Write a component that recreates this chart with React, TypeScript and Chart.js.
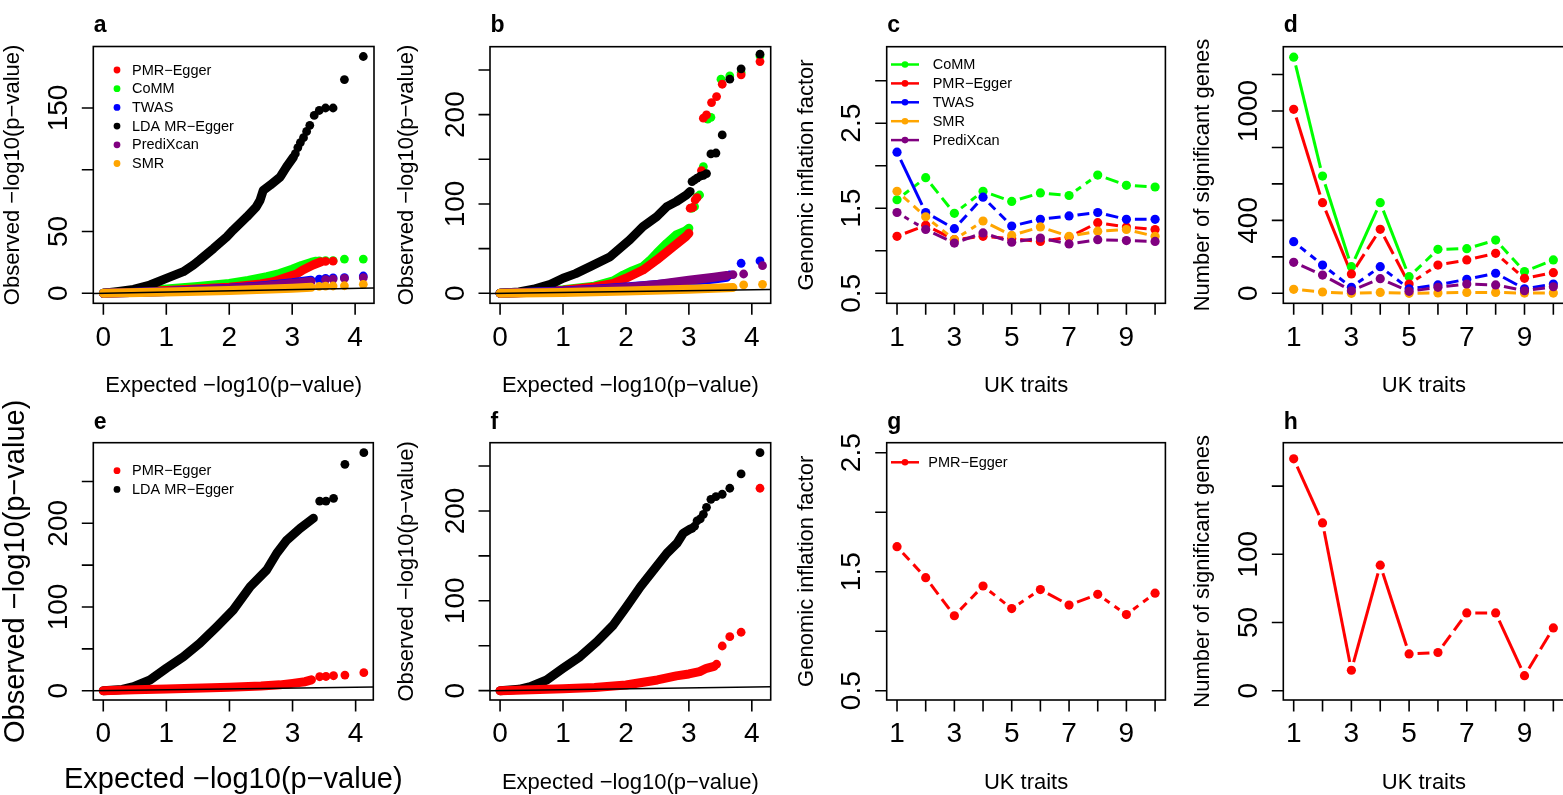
import React, { useEffect, useRef } from "react";
import { Chart, registerables } from "chart.js";
Chart.register(...registerables);

const FONT = "'Liberation Sans', Arial, Helvetica, sans-serif";
const RED = "#FF0000";
const GREEN = "#00FF00";
const BLUE = "#0000FF";
const BLACK = "#000000";
const PURPLE = "#800080";
const ORANGE = "#FFA500";

// ---------- Panel a (QQ, 6 methods) ----------
const aLdaX = [0, 0.21, 0.48, 0.74, 1.0, 1.27, 1.43, 1.53, 1.75, 1.96, 2.06, 2.28, 2.43, 2.49, 2.54, 2.65, 2.81, 2.91, 3.02];
const aLdaY = [0, 1.3, 3.2, 6.7, 12.1, 17.5, 22.9, 26.9, 36.3, 45.7, 51.1, 61.9, 70, 75.4, 83.4, 87.5, 94.2, 102.3, 110.3];
const aLdaTailX = [3.05, 3.09, 3.13, 3.18, 3.23, 3.28, 3.35, 3.43, 3.53, 3.65, 3.83, 4.13];
const aLdaTailY = [113, 118, 122, 126, 131, 136, 144, 148, 150, 150, 173, 191.7];
const aCommX = [0, 0.5, 1.0, 1.5, 2.0, 2.3, 2.6, 2.8, 3.0, 3.15, 3.3, 3.38];
const aCommY = [0, 1.8, 3.5, 5.5, 8, 10.5, 13.5, 16, 19.5, 22.5, 25, 26];
const aCommTailX = [3.43, 3.53, 3.65, 3.83, 4.13];
const aCommTailY = [26.3, 26.5, 26.5, 27.7, 27.7];
const aPmrX = [0, 1.0, 2.0, 2.5, 2.7, 2.91, 3.07, 3.17, 3.33, 3.46];
const aPmrY = [0, 2.2, 5, 7.5, 9.4, 12.9, 15.6, 18.9, 22.9, 25.5];
const aPmrTailX = [3.53, 3.65];
const aPmrTailY = [25.8, 26];
const aTwasX = [0, 1.0, 2.0, 2.5, 3.0, 3.3];
const aTwasY = [0, 1.5, 4, 6, 8.5, 10.5];
const aTwasTailX = [3.43, 3.53, 3.65, 3.83, 4.13];
const aTwasTailY = [11.5, 12, 12.5, 12.6, 14];
const aPrediX = [0, 1, 2, 2.5, 3, 3.3];
const aPrediY = [0, 1.5, 3.8, 5.5, 8, 9.5];
const aPrediTailX = [3.53, 3.65, 3.83, 4.13];
const aPrediTailY = [11, 11.5, 12, 12.6];
const aSmrX = [0, 1, 2, 3, 3.3];
const aSmrY = [0, 1, 2.2, 4, 4.8];
const aSmrTailX = [3.43, 3.53, 3.65, 3.83, 4.13];
const aSmrTailY = [5.6, 5.8, 5.9, 6.1, 7.3];

// ---------- Panel b ----------
const bLdaX = [0, 0.3, 0.53, 0.8, 1.0, 1.2, 1.43, 1.75, 2.06, 2.27, 2.49, 2.65, 2.8, 2.96, 3.02];
const bLdaY = [0, 1.5, 4.5, 10, 16.8, 22, 29.8, 41, 59.7, 74.6, 85.8, 97, 102.6, 110, 114];
const bLdaTailX = [3.05, 3.09, 3.13, 3.18, 3.23, 3.28, 3.35, 3.43, 3.53, 3.65, 3.83, 4.13];
const bLdaTailY = [125, 127, 129, 131, 132, 134, 156, 157, 177.3, 239.6, 251.2, 267.6];
const bCommX = [0, 0.5, 1.0, 1.5, 1.8, 1.96, 2.1, 2.27, 2.4, 2.49, 2.65, 2.8, 2.95, 3.0];
const bCommY = [0, 1.5, 4, 8, 14, 20.5, 25, 29.8, 38, 44.8, 56, 65.3, 70, 72.8];
const bCommTailX = [3.05, 3.09, 3.13, 3.17, 3.23, 3.3, 3.35, 3.51, 3.65, 3.83, 4.13];
const bCommTailY = [95.2, 97, 108, 110, 141.8, 195, 197, 239.6, 243.3, 247, 265.7];
const bPmrX = [0, 0.5, 1.0, 1.5, 1.8, 2.0, 2.27, 2.49, 2.75, 2.96, 3.0];
const bPmrY = [0, 1.2, 3.5, 7, 11, 16.8, 26, 37.3, 52.2, 64, 67.2];
const bPmrTailX = [3.02, 3.06, 3.1, 3.13, 3.2, 3.23, 3.28, 3.36, 3.44, 3.53, 3.83, 4.13];
const bPmrTailY = [95.2, 96, 104.5, 107, 137.3, 196, 199.7, 213.5, 220.2, 234, 244.5, 259.4];
const bTwasX = [0, 1, 1.5, 2, 2.5, 3, 3.4, 3.6];
const bTwasY = [0, 2.5, 4.5, 7, 10, 13, 16, 18];
const bTwasTailX = [3.65, 3.83, 4.13];
const bTwasTailY = [20.5, 33.6, 36.2];
const bPrediX = [0, 1, 1.5, 2, 2.5, 3, 3.4, 3.6];
const bPrediY = [0, 2, 4, 6.5, 10, 14.5, 18, 20];
const bPrediTailX = [3.7, 3.87, 4.17];
const bPrediTailY = [21, 21.6, 30.9];
const bSmrX = [0, 1, 2, 3, 3.5, 3.7];
const bSmrY = [0, 1, 2.5, 4.5, 5.8, 6.5];
const bSmrTailX = [3.87, 4.17];
const bSmrTailY = [9.3, 10];

// ---------- Panel e ----------
const eLdaX = [0, 0.3, 0.48, 0.74, 1.0, 1.27, 1.53, 1.8, 2.06, 2.33, 2.59, 2.75, 2.91, 3.12, 3.33];
const eLdaY = [0, 1.5, 4.8, 12.8, 26.8, 40.6, 56.6, 76.5, 96.4, 124.3, 144.2, 164.2, 180, 194, 206];
const eLdaTailX = [3.43, 3.53, 3.65, 3.83, 4.13];
const eLdaTailY = [226.6, 226.6, 229.9, 270.5, 284.4];
const ePmrX = [0, 0.5, 1, 2, 2.5, 2.8, 3.0, 3.2, 3.3];
const ePmrY = [0, 1, 2, 4, 5.5, 7, 8.8, 10.8, 13];
const ePmrTailX = [3.43, 3.53, 3.65, 3.83, 4.13];
const ePmrTailY = [16.7, 17, 17.9, 18.7, 21.5];

// ---------- Panel f ----------
const fLdaX = [0, 0.3, 0.48, 0.74, 1.0, 1.27, 1.54, 1.8, 2.01, 2.23, 2.44, 2.65, 2.81, 2.91, 3.02];
const fLdaY = [0, 1.5, 4.5, 11.9, 24.9, 37.8, 54.5, 73.1, 93.5, 115.7, 134.3, 152.9, 164, 175.2, 180];
const fLdaTailX = [3.05, 3.09, 3.13, 3.18, 3.23, 3.28, 3.35, 3.43, 3.53, 3.65, 3.83, 4.13];
const fLdaTailY = [180.7, 183, 189, 191.1, 196.3, 204.1, 213, 216, 218.6, 225.3, 241.2, 264.9];
const fPmrX = [0, 0.5, 1, 1.5, 2, 2.5, 2.8, 3.0, 3.17, 3.28, 3.4];
const fPmrY = [0, 1, 2, 3.5, 6.3, 11.9, 16.4, 18.6, 21.2, 24.9, 27];
const fPmrTailX = [3.44, 3.53, 3.65, 3.83, 4.13];
const fPmrTailY = [29.4, 49.7, 60.1, 65, 225.3];

// ---------- Panels c, d, g, h (UK traits) ----------
const traits = [1, 2, 3, 4, 5, 6, 7, 8, 9, 10];
const cComm = [1.6, 1.86, 1.44, 1.7, 1.58, 1.68, 1.65, 1.89, 1.77, 1.75];
const cPmr = [1.17, 1.3, 1.13, 1.17, 1.14, 1.11, 1.16, 1.33, 1.28, 1.25];
const cTwas = [2.16, 1.45, 1.26, 1.63, 1.29, 1.37, 1.41, 1.45, 1.37, 1.37];
const cSmr = [1.7, 1.4, 1.13, 1.35, 1.18, 1.28, 1.17, 1.23, 1.25, 1.17];
const cPredi = [1.45, 1.25, 1.09, 1.21, 1.1, 1.15, 1.08, 1.13, 1.12, 1.11];
const dComm = [1295, 643, 146, 497, 91, 241, 245, 292, 119, 183];
const dPmr = [1009, 497, 106, 351, 51, 155, 183, 219, 82, 113];
const dTwas = [283, 155, 33, 146, 25, 46, 77, 110, 25, 51];
const dSmr = [22, 7, 0, 5, 0, 2, 5, 5, 1, 1];
const dPredi = [170, 100, 14, 80, 11, 33, 51, 46, 14, 36];
const gPmr = [1.71, 1.45, 1.13, 1.38, 1.19, 1.35, 1.22, 1.31, 1.14, 1.32];
const hPmr = [170, 123, 15, 92, 27, 28, 57, 57, 11, 46];

// ---------- tick definitions ----------
const qqXTicks = [0, 1, 2, 3, 4];
const traitTicks = traits;
const traitLabels = [1, 3, 5, 7, 9];
const aYTicks = [0, 50, 100, 150];
const aYLabels = [0, 50, 150];
const bYTicks = [0, 50, 100, 150, 200, 250];
const bYLabels = [0, 100, 200];
const cYTicks = [0.5, 1, 1.5, 2, 2.5, 3];
const cYLabels = [0.5, 1.5, 2.5];
const dYTicks = [0, 200, 400, 600, 800, 1000, 1200];
const dYLabels = [0, 400, 1000];
const gYTicks = [0.5, 1, 1.5, 2, 2.5];
const hYTicks = [0, 50, 100, 150];
const hYLabels = [0, 50, 100];

type QQ = { color: string; x: number[]; y: number[]; tx: number[]; ty: number[] };
type BS = { color: string; y: number[] };
type Leg = { kind: "dot" | "line"; items: { label: string; color: string }[]; markX: number; textX: number; y0: number; dy: number; size: number };

interface Spec {
  letter: string;
  cx: number; cy: number; cw: number; ch: number;
  box: { l: number; t: number; r: number; b: number };
  xr: [number, number]; yr: [number, number];
  xTicks: number[]; xLabels: number[];
  yTicks: number[]; yLabels: number[]; dec?: boolean;
  xTitle: string; yTitle: string; titleSize: number;
  xTitleBase: number; yTitleBase: number; tickLabelOff: number; letterBase: number;
  qq?: QQ[]; bs?: BS[]; abline?: boolean;
  legend?: Leg;
}

const XQ = "Expected \u2212log10(p\u2212value)";
const YQ = "Observed \u2212log10(p\u2212value)";
const PMR = "PMR\u2212Egger";
const LDA = "LDA MR\u2212Egger";

const specs: Spec[] = [
  {
    letter: "a", cx: 0, cy: 0, cw: 390, ch: 400,
    box: { l: 93.3, t: 46.5, r: 374, b: 303.3 }, xr: [-0.16, 4.3], yr: [-8.1, 199.8],
    xTicks: qqXTicks, xLabels: qqXTicks, yTicks: aYTicks, yLabels: aYLabels,
    xTitle: XQ, yTitle: YQ, titleSize: 22, xTitleBase: 392.3, yTitleBase: 19.3, tickLabelOff: 43, letterBase: 32,
    abline: true,
    qq: [
      { color: GREEN, x: aCommX, y: aCommY, tx: aCommTailX, ty: aCommTailY },
      { color: RED, x: aPmrX, y: aPmrY, tx: aPmrTailX, ty: aPmrTailY },
      { color: BLACK, x: aLdaX, y: aLdaY, tx: aLdaTailX, ty: aLdaTailY },
      { color: BLUE, x: aTwasX, y: aTwasY, tx: aTwasTailX, ty: aTwasTailY },
      { color: PURPLE, x: aPrediX, y: aPrediY, tx: aPrediTailX, ty: aPrediTailY },
      { color: ORANGE, x: aSmrX, y: aSmrY, tx: aSmrTailX, ty: aSmrTailY },
    ],
    legend: {
      kind: "dot", markX: 117, textX: 132, y0: 70, dy: 18.7, size: 14.5,
      items: [
        { label: PMR, color: RED }, { label: "CoMM", color: GREEN }, { label: "TWAS", color: BLUE },
        { label: LDA, color: BLACK }, { label: "PrediXcan", color: PURPLE }, { label: "SMR", color: ORANGE },
      ],
    },
  },
  {
    letter: "b", cx: 390, cy: 0, cw: 390, ch: 400,
    box: { l: 490, t: 46.7, r: 770.7, b: 303.3 }, xr: [-0.16, 4.3], yr: [-11.2, 276],
    xTicks: qqXTicks, xLabels: qqXTicks, yTicks: bYTicks, yLabels: bYLabels,
    xTitle: XQ, yTitle: YQ, titleSize: 22, xTitleBase: 392.3, yTitleBase: 412.5, tickLabelOff: 43, letterBase: 32,
    abline: true,
    qq: [
      { color: GREEN, x: bCommX, y: bCommY, tx: bCommTailX, ty: bCommTailY },
      { color: RED, x: bPmrX, y: bPmrY, tx: bPmrTailX, ty: bPmrTailY },
      { color: BLACK, x: bLdaX, y: bLdaY, tx: bLdaTailX, ty: bLdaTailY },
      { color: BLUE, x: bTwasX, y: bTwasY, tx: bTwasTailX, ty: bTwasTailY },
      { color: PURPLE, x: bPrediX, y: bPrediY, tx: bPrediTailX, ty: bPrediTailY },
      { color: ORANGE, x: bSmrX, y: bSmrY, tx: bSmrTailX, ty: bSmrTailY },
    ],
  },
  {
    letter: "c", cx: 780, cy: 0, cw: 390, ch: 400,
    box: { l: 886.7, t: 46.7, r: 1167.3, b: 303.3 }, xr: [0.64, 10.36], yr: [0.382, 3.4],
    xTicks: traitTicks, xLabels: traitLabels, yTicks: cYTicks, yLabels: cYLabels, dec: true,
    xTitle: "UK traits", yTitle: "Genomic inflation factor", titleSize: 22, xTitleBase: 392.3, yTitleBase: 813, tickLabelOff: 43, letterBase: 32,
    bs: [
      { color: GREEN, y: cComm }, { color: RED, y: cPmr }, { color: BLUE, y: cTwas },
      { color: ORANGE, y: cSmr }, { color: PURPLE, y: cPredi },
    ],
    legend: {
      kind: "line", markX: 905, textX: 932.7, y0: 64.5, dy: 18.9, size: 14.5,
      items: [
        { label: "CoMM", color: GREEN }, { label: PMR, color: RED }, { label: "TWAS", color: BLUE },
        { label: "SMR", color: ORANGE }, { label: "PrediXcan", color: PURPLE },
      ],
    },
  },
  {
    letter: "d", cx: 1170, cy: 0, cw: 410, ch: 400,
    box: { l: 1283.3, t: 46.7, r: 1564.6, b: 303.3 }, xr: [0.64, 10.39], yr: [-54.9, 1352.7],
    xTicks: traitTicks, xLabels: traitLabels, yTicks: dYTicks, yLabels: dYLabels,
    xTitle: "UK traits", yTitle: "Number of significant genes", titleSize: 22, xTitleBase: 392.3, yTitleBase: 1209, tickLabelOff: 43, letterBase: 32,
    bs: [
      { color: GREEN, y: dComm }, { color: RED, y: dPmr }, { color: BLUE, y: dTwas },
      { color: ORANGE, y: dSmr }, { color: PURPLE, y: dPredi },
    ],
  },
  {
    letter: "e", cx: 0, cy: 400, cw: 430, ch: 395,
    box: { l: 93.3, t: 442.7, r: 373.3, b: 700 }, xr: [-0.158, 4.28], yr: [-11.1, 296.3],
    xTicks: qqXTicks, xLabels: qqXTicks, yTicks: bYTicks, yLabels: bYLabels,
    xTitle: XQ, yTitle: YQ, titleSize: 29, xTitleBase: 788, yTitleBase: 24, tickLabelOff: 42, letterBase: 429,
    abline: true,
    qq: [
      { color: BLACK, x: eLdaX, y: eLdaY, tx: eLdaTailX, ty: eLdaTailY },
      { color: RED, x: ePmrX, y: ePmrY, tx: ePmrTailX, ty: ePmrTailY },
    ],
    legend: {
      kind: "dot", markX: 117, textX: 132, y0: 470.7, dy: 18.7, size: 14.5,
      items: [{ label: PMR, color: RED }, { label: LDA, color: BLACK }],
    },
  },
  {
    letter: "f", cx: 390, cy: 400, cw: 390, ch: 395,
    box: { l: 490, t: 442.7, r: 770.7, b: 700 }, xr: [-0.16, 4.3], yr: [-10.4, 276],
    xTicks: qqXTicks, xLabels: qqXTicks, yTicks: bYTicks, yLabels: bYLabels,
    xTitle: XQ, yTitle: YQ, titleSize: 22, xTitleBase: 789, yTitleBase: 412.5, tickLabelOff: 42, letterBase: 429,
    abline: true,
    qq: [
      { color: BLACK, x: fLdaX, y: fLdaY, tx: fLdaTailX, ty: fLdaTailY },
      { color: RED, x: fPmrX, y: fPmrY, tx: fPmrTailX, ty: fPmrTailY },
    ],
  },
  {
    letter: "g", cx: 780, cy: 400, cw: 390, ch: 395,
    box: { l: 886.7, t: 442.7, r: 1167.3, b: 700 }, xr: [0.64, 10.36], yr: [0.422, 2.584],
    xTicks: traitTicks, xLabels: traitLabels, yTicks: gYTicks, yLabels: cYLabels, dec: true,
    xTitle: "UK traits", yTitle: "Genomic inflation factor", titleSize: 22, xTitleBase: 789, yTitleBase: 813, tickLabelOff: 42, letterBase: 429,
    bs: [{ color: RED, y: gPmr }],
    legend: {
      kind: "line", markX: 905, textX: 928.3, y0: 462.3, dy: 18.9, size: 14.5,
      items: [{ label: PMR, color: RED }],
    },
  },
  {
    letter: "h", cx: 1170, cy: 400, cw: 410, ch: 395,
    box: { l: 1283.3, t: 442.7, r: 1564.6, b: 700 }, xr: [0.64, 10.39], yr: [-6.8, 181.8],
    xTicks: traitTicks, xLabels: traitLabels, yTicks: hYTicks, yLabels: hYLabels,
    xTitle: "UK traits", yTitle: "Number of significant genes", titleSize: 22, xTitleBase: 789, yTitleBase: 1209, tickLabelOff: 42, letterBase: 429,
    bs: [{ color: RED, y: hPmr }],
  },
];

function buildDatasets(s: Spec) {
  const list: any[] = [];
  if (s.qq) {
    for (const q of s.qq) {
      list.push({
        data: q.x.map((x, i) => ({ x, y: q.y[i] })),
        showLine: true, borderColor: q.color, borderWidth: 9, pointRadius: 0,
        borderCapStyle: "round", borderJoinStyle: "round", tension: 0,
      });
      list.push({
        data: q.tx.map((x, i) => ({ x, y: q.ty[i] })),
        showLine: false, pointRadius: 4.4, pointBackgroundColor: q.color, pointBorderWidth: 0,
        backgroundColor: q.color, borderColor: q.color,
      });
    }
  }
  if (s.bs) {
    for (const b of s.bs) {
      list.push({
        data: traits.map((x, i) => ({ x, y: b.y[i] })),
        showLine: false, pointRadius: 4.6, pointBackgroundColor: b.color, pointBorderWidth: 0,
        backgroundColor: b.color, borderColor: b.color,
      });
    }
  }
  if (s.abline) {
    list.push({
      data: [{ x: -10, y: -10 }, { x: 10, y: 10 }],
      showLine: true, borderColor: BLACK, borderWidth: 1.5, pointRadius: 0, clip: 0,
    });
  }
  const n = list.length;
  list.forEach((d, i) => (d.order = n - i));
  return list;
}

function decorPlugin(s: Spec) {
  return {
    id: "decor_" + s.letter,
    beforeDatasetsDraw(chart: any) {
      if (!s.bs) return;
      const ctx = chart.ctx;
      const xs = chart.scales.x, ys = chart.scales.y;
      const a = chart.chartArea;
      ctx.save();
      ctx.beginPath();
      ctx.rect(a.left, a.top, a.right - a.left, a.bottom - a.top);
      ctx.clip();
      ctx.lineWidth = 3;
      ctx.lineCap = "butt";
      const gap = 8.5;
      const seg = (x0: number, y0: number, ux: number, uy: number, from: number, to: number) => {
        ctx.beginPath();
        ctx.moveTo(x0 + ux * from, y0 + uy * from);
        ctx.lineTo(x0 + ux * to, y0 + uy * to);
        ctx.stroke();
      };
      for (const b of s.bs) {
        ctx.strokeStyle = b.color;
        for (let i = 0; i < traits.length - 1; i++) {
          const x0 = xs.getPixelForValue(traits[i]), y0 = ys.getPixelForValue(b.y[i]);
          const x1 = xs.getPixelForValue(traits[i + 1]), y1 = ys.getPixelForValue(b.y[i + 1]);
          const dx = x1 - x0, dy = y1 - y0;
          const d = Math.hypot(dx, dy);
          const vis = d - 2 * gap;
          if (vis <= 1) continue;
          const ux = dx / d, uy = dy / d;
          if (vis >= 16 && vis <= 48) {
            const part = (vis - 6) / 2;
            seg(x0, y0, ux, uy, gap, gap + part);
            seg(x0, y0, ux, uy, gap + part + 6, d - gap);
          } else {
            seg(x0, y0, ux, uy, gap, d - gap);
          }
        }
      }
      ctx.restore();
    },
    afterDraw(chart: any) {
      const ctx = chart.ctx;
      const xs = chart.scales.x, ys = chart.scales.y;
      const { left, right, top, bottom } = chart.chartArea;
      const ox = s.cx, oy = s.cy;
      ctx.save();
      ctx.strokeStyle = "#000";
      ctx.lineWidth = 1.6;
      ctx.strokeRect(left, top, right - left, bottom - top);
      ctx.beginPath();
      for (const v of s.xTicks) {
        const p = xs.getPixelForValue(v);
        ctx.moveTo(p, bottom);
        ctx.lineTo(p, bottom + 11.5);
      }
      for (const v of s.yTicks) {
        const p = ys.getPixelForValue(v);
        ctx.moveTo(left, p);
        ctx.lineTo(left - 11.5, p);
      }
      ctx.stroke();
      ctx.fillStyle = "#000";
      ctx.font = `28px ${FONT}`;
      ctx.textAlign = "center";
      ctx.textBaseline = "alphabetic";
      for (const v of s.xLabels) ctx.fillText(String(v), xs.getPixelForValue(v), bottom + s.tickLabelOff);
      for (const v of s.yLabels) {
        const p = ys.getPixelForValue(v);
        ctx.save();
        ctx.translate(left - 26.5, p);
        ctx.rotate(-Math.PI / 2);
        ctx.fillText(s.dec ? v.toFixed(1) : String(v), 0, 0);
        ctx.restore();
      }
      // axis titles
      ctx.font = `${s.titleSize}px ${FONT}`;
      ctx.fillText(s.xTitle, (left + right) / 2, s.xTitleBase - oy);
      ctx.save();
      ctx.translate(s.yTitleBase - ox, (top + bottom) / 2);
      ctx.rotate(-Math.PI / 2);
      ctx.fillText(s.yTitle, 0, 0);
      ctx.restore();
      // panel letter
      ctx.font = `bold 23px ${FONT}`;
      ctx.textAlign = "left";
      ctx.fillText(s.letter, left + 0.5, s.letterBase - oy);
      // legend
      if (s.legend) {
        const L = s.legend;
        ctx.font = `${L.size}px ${FONT}`;
        ctx.textBaseline = "middle";
        L.items.forEach((it, i) => {
          const y = L.y0 + i * L.dy - oy;
          const mx = L.markX - ox;
          ctx.fillStyle = it.color;
          ctx.strokeStyle = it.color;
          if (L.kind === "line") {
            ctx.lineWidth = 2.5;
            ctx.beginPath();
            ctx.moveTo(mx - 14, y);
            ctx.lineTo(mx + 14, y);
            ctx.stroke();
            ctx.beginPath();
            ctx.arc(mx, y, 3.3, 0, Math.PI * 2);
            ctx.fill();
          } else {
            ctx.beginPath();
            ctx.arc(mx, y, 3.4, 0, Math.PI * 2);
            ctx.fill();
          }
          ctx.fillStyle = "#000";
          ctx.fillText(it.label, L.textX - ox, y + 0.5);
        });
      }
      ctx.restore();
    },
  };
}

function Panel({ spec }: { spec: Spec }) {
  const ref = useRef<HTMLCanvasElement | null>(null);
  useEffect(() => {
    const canvas = ref.current;
    if (!canvas) return;
    const s = spec;
    const chart = new Chart(canvas, {
      type: "scatter",
      data: { datasets: buildDatasets(s) },
      options: {
        animation: false,
        responsive: false,
        maintainAspectRatio: false,
        devicePixelRatio: 1,
        events: [],
        layout: {
          padding: {
            left: s.box.l - s.cx,
            top: s.box.t - s.cy,
            right: s.cx + s.cw - s.box.r,
            bottom: s.cy + s.ch - s.box.b,
          },
        },
        plugins: { legend: { display: false }, tooltip: { enabled: false }, title: { display: false } },
        scales: {
          x: { type: "linear", min: s.xr[0], max: s.xr[1], display: false },
          y: { type: "linear", min: s.yr[0], max: s.yr[1], display: false },
        },
      } as any,
      plugins: [decorPlugin(s)],
    } as any);
    return () => chart.destroy();
  }, [spec]);
  return (
    <canvas
      ref={ref}
      width={spec.cw}
      height={spec.ch}
      style={{ position: "absolute", left: spec.cx, top: spec.cy, width: spec.cw, height: spec.ch }}
    />
  );
}

export default function App() {
  return (
    <div style={{ position: "fixed", left: 0, top: 0, width: 1563, height: 795, overflow: "hidden", background: "#fff" }}>
      {specs.map((s) => (
        <Panel key={s.letter} spec={s} />
      ))}
    </div>
  );
}
